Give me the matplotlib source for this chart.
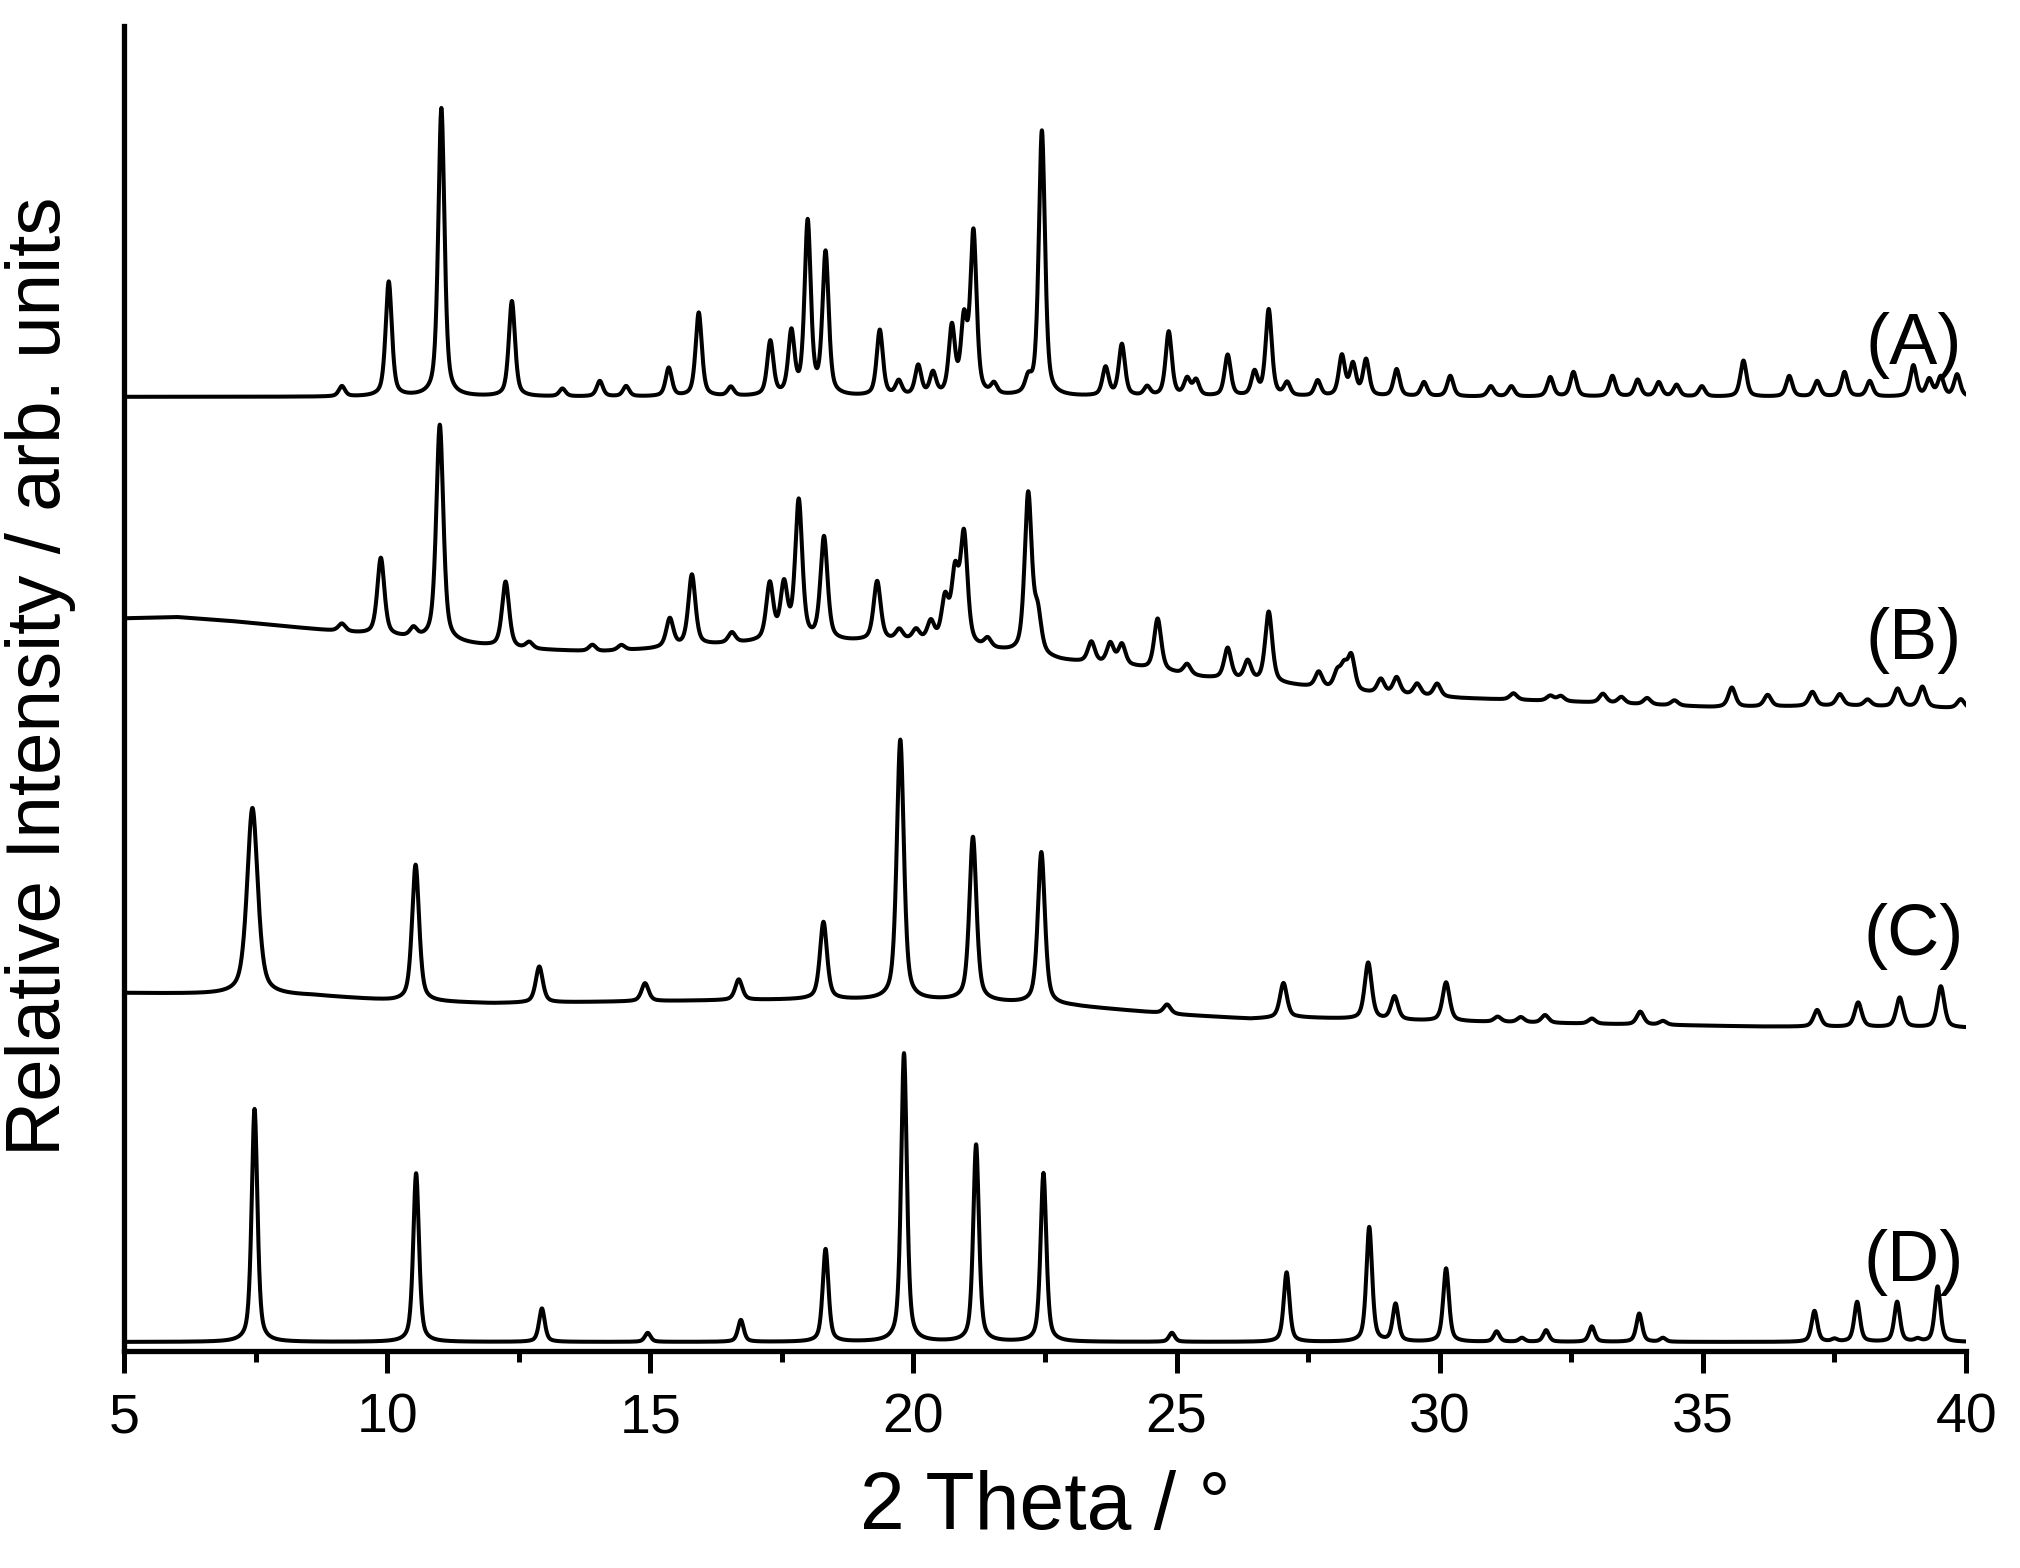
import numpy as np
import matplotlib
matplotlib.use("Agg")
import matplotlib.pyplot as plt
from matplotlib.ticker import MultipleLocator

plt.rcParams['font.family'] = ['Liberation Sans', 'DejaVu Sans']

# Peak lists: 2-theta position, height above local background
A_POS = [9.14, 10.03, 11.03, 12.37, 13.33, 14.04, 14.54, 15.35, 15.92, 16.53,
         17.28, 17.68, 17.99, 18.33, 19.36, 19.72, 20.09, 20.37, 20.73, 20.96,
         21.14, 21.53, 22.18, 22.44, 23.65, 23.96, 24.44, 24.85, 25.20, 25.37,
         25.97, 26.48, 26.75, 27.10, 27.68, 28.14, 28.35, 28.60, 29.18, 29.70,
         30.20, 30.97, 31.36, 32.10, 32.54, 33.28, 33.76, 34.16, 34.50, 34.98,
         35.77, 36.64, 37.17, 37.69, 38.17, 39.00, 39.30, 39.52, 39.83]
A_HGT = [8, 89, 224, 74, 6, 12, 8, 22, 65, 7,
         42, 48, 134, 110, 51, 11, 23, 17, 52, 55,
         125, 8, 11, 206, 22, 40, 7, 50, 13, 12,
         32, 18, 67, 10, 12, 31, 24, 28, 21, 11,
         16, 8, 8, 15, 19, 16, 13, 11, 9, 8,
         28, 16, 12, 19, 12, 24, 13, 15, 17]

B_POS = [9.14, 9.88, 10.50, 11.00, 12.25, 12.70, 13.90, 14.45, 15.37, 15.79,
         16.55, 17.27, 17.54, 17.82, 18.30, 19.31, 19.73, 20.05, 20.33, 20.60,
         20.79, 20.96, 21.41, 22.18, 22.36, 23.38, 23.74, 23.96, 24.64, 25.20,
         25.97, 26.35, 26.75, 27.70, 28.05, 28.18, 28.32, 28.88, 29.18, 29.57,
         29.95, 31.40, 32.10, 32.30, 33.10, 33.45, 33.94, 34.46, 35.55, 36.23,
         37.08, 37.60, 38.13, 38.70, 39.17, 39.90]
B_HGT = [6, 60, 7, 168, 51, 5, 5, 4, 22, 55,
         8, 44, 42, 108, 80, 46, 8, 8, 15, 33,
         52, 84, 7, 124, 30, 16, 16, 16, 40, 8,
         24, 15, 55, 12, 12, 16, 26, 11, 13, 9,
         10, 5, 4, 4, 7, 5, 5, 4, 15, 9,
         11, 9, 5, 14, 16, 7]

C_POS = [7.44, 10.54, 12.89, 14.90, 16.68, 18.29, 19.75, 21.13, 22.43, 24.82,
         27.03, 28.64, 29.14, 30.12, 31.10, 31.54, 32.00, 32.89, 33.81, 34.24,
         37.17, 37.95, 38.74, 39.52]
C_HGT = [145, 106, 28, 14, 16, 60, 202, 127, 118, 7,
         27, 44, 18, 30, 4, 4, 6, 4, 10, 3,
         13, 19, 23, 32]

D_POS = [7.48, 10.55, 12.94, 14.95, 16.72, 18.33, 19.82, 21.19, 22.47, 24.91,
         27.09, 28.66, 29.16, 30.12, 31.08, 31.56, 32.02, 32.89, 33.79, 34.24,
         37.12, 37.50, 37.93, 38.69, 39.08, 39.46]
D_HGT = [181, 131, 26, 7, 17, 72, 224, 153, 131, 7,
         54, 89, 29, 57, 8, 3, 9, 12, 22, 3,
         24, 2, 31, 31, 2, 43]

# Background levels (vertically stacked traces)
A_BG_X = [5, 40]
A_BG_Y = [741, 741]
B_BG_X = [5.0, 6.0, 7.0, 8.0, 9.0, 10.0, 11.5, 12.5, 14.0, 15.0, 16.0, 17.0,
          19.0, 20.0, 21.7, 22.8, 24.2, 25.5, 27.2, 28.5, 30.4, 32.6, 35.2, 37.8, 40.0]
B_BG_Y = [569, 570, 567, 563, 559, 555, 549, 545, 543, 545, 548, 550,
          551, 551, 543, 536, 531, 523, 517, 511, 507, 504, 500, 501, 499]
C_BG_X = [5.0, 7.0, 8.6, 10.1, 12.0, 15.8, 18.0, 21.0, 23.0, 25.1, 26.4, 27.3,
          29.0, 33.0, 36.0, 40.0]
C_BG_Y = [278, 277, 276, 272, 270, 272, 273, 272, 268, 261, 258, 259,
          257, 254, 252, 251]
D_BG_X = [5, 40]
D_BG_Y = [7, 7]

LABELS = ["(A)", "(B)", "(C)", "(D)"]
LABEL_Y = [781, 552, 322, 69]

two_theta = np.arange(5.0, 40.0001, 0.005)


def pattern(pos, hgt, bg_x, bg_y, fwhm, eta=0.55, wide_low=False):
    y = np.interp(two_theta, bg_x, bg_y).astype(float)
    for p, h in zip(pos, hgt):
        w = fwhm * 1.5 if (wide_low and p < 8) else fwhm
        d = (two_theta - p) / (w / 2)
        lor = 1.0 / (1.0 + d ** 2)
        gau = np.exp(-np.log(2) * d ** 2)
        y += h * (eta * lor + (1 - eta) * gau)
    return y


traces = [
    pattern(A_POS, A_HGT, A_BG_X, A_BG_Y, 0.14),
    pattern(B_POS, B_HGT, B_BG_X, B_BG_Y, 0.16),
    pattern(C_POS, C_HGT, C_BG_X, C_BG_Y, 0.16, wide_low=True),
    pattern(D_POS, D_HGT, D_BG_X, D_BG_Y, 0.13),
]

fig = plt.figure(figsize=(20.2, 15.68), dpi=100)
ax = fig.add_axes([0.0614, 0.1384, 0.9119, 0.845])

for y in traces:
    ax.plot(two_theta, y, color="black", lw=2.9)

for lab, ly in zip(LABELS, LABEL_Y):
    ax.text(39.0, ly, lab, fontsize=52, ha="center", va="center")

ax.set_xlim(5, 40)
ax.set_ylim(0, 1029)
ax.xaxis.set_major_locator(MultipleLocator(5))
ax.xaxis.set_minor_locator(MultipleLocator(2.5))
ax.set_yticks([])
ax.spines["top"].set_visible(False)
ax.spines["right"].set_visible(False)
ax.spines["left"].set_linewidth(3.8)
ax.spines["bottom"].set_linewidth(3.8)
ax.tick_params(axis="x", which="major", direction="out", length=16, width=3.6,
               labelsize=40, pad=14)
ax.tick_params(axis="x", which="minor", direction="out", length=8, width=3.6)

ax.set_xlabel("2 Theta / °", fontsize=58, labelpad=18)
ax.set_ylabel("Relative Intensity / arb. units", fontsize=55)
ax.yaxis.set_label_coords(-0.026, 0.509)

fig.savefig("out.png", dpi=100)
